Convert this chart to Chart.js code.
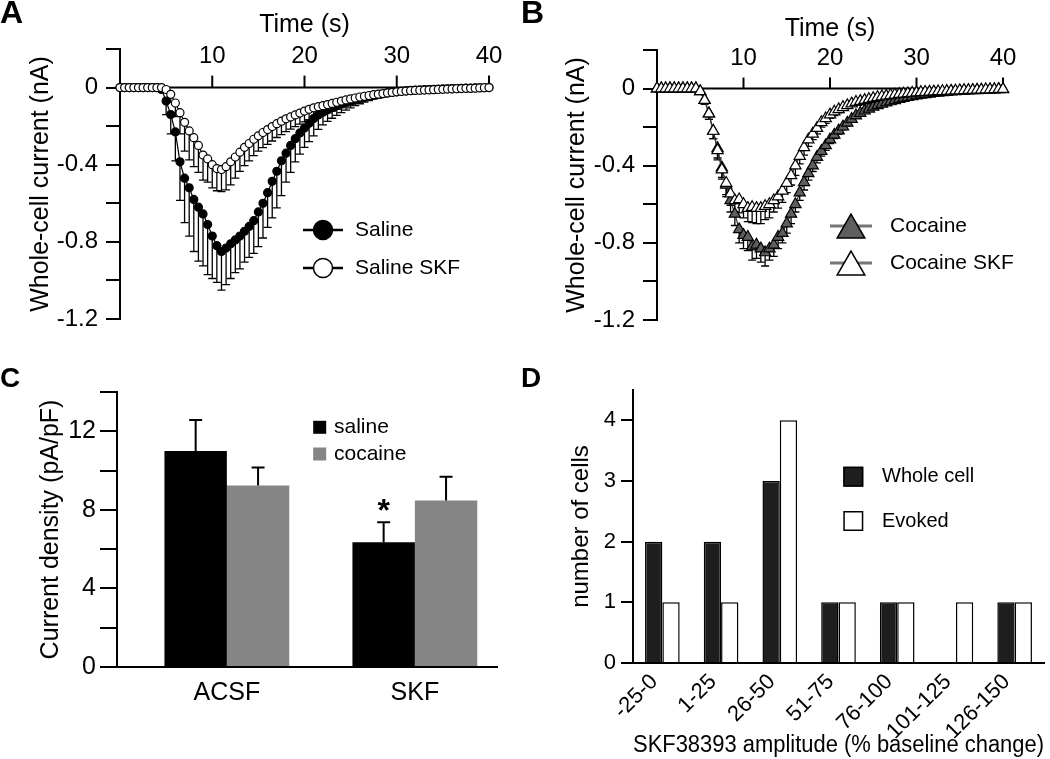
<!DOCTYPE html>
<html>
<head>
<meta charset="utf-8">
<title>Whole-cell currents</title>
<script src="https://cdn.jsdelivr.net/npm/chart.js@4.4.1/dist/chart.umd.min.js"></script>
<style>
  html, body { margin: 0; padding: 0; background: #fff; }
  #figure { position: relative; width: 1050px; height: 759px; overflow: hidden; }
  #figure canvas { position: absolute; }
  .panel-tag { position: absolute; font-family: 'Liberation Sans', Arial, sans-serif; font-weight: bold; line-height: 1; color: #000; }
</style>
</head>
<body>
<div id="figure">
  <canvas id="chartA" width="520" height="330" style="left:0px;top:0px"></canvas>
  <canvas id="chartB" width="530" height="330" style="left:520px;top:0px"></canvas>
  <canvas id="chartC" width="520" height="429" style="left:0px;top:330px"></canvas>
  <canvas id="chartD" width="530" height="429" style="left:520px;top:330px"></canvas>
  <div class="panel-tag" style="left:0px;top:-4px;font-size:32px">A</div>
  <div class="panel-tag" style="left:521px;top:-4px;font-size:32px">B</div>
  <div class="panel-tag" style="left:0px;top:364px;font-size:28px">C</div>
  <div class="panel-tag" style="left:521px;top:364px;font-size:28px">D</div>
</div>
<script>
// --- data ---

// sampling times (s), one point every 0.5 s
const timeSec = [
  0, 0.5, 1, 1.5, 2, 2.5, 3, 3.5, 4, 4.5,
  5, 5.5, 6, 6.5, 7, 7.5, 8, 8.5, 9, 9.5,
  10, 10.5, 11, 11.5, 12, 12.5, 13, 13.5, 14, 14.5,
  15, 15.5, 16, 16.5, 17, 17.5, 18, 18.5, 19, 19.5,
  20, 20.5, 21, 21.5, 22, 22.5, 23, 23.5, 24, 24.5,
  25, 25.5, 26, 26.5, 27, 27.5, 28, 28.5, 29, 29.5,
  30, 30.5, 31, 31.5, 32, 32.5, 33, 33.5, 34, 34.5,
  35, 35.5, 36, 36.5, 37, 37.5, 38, 38.5, 39, 39.5,
  40
];
const timeTicks = [10, 20, 30, 40];
const currentTickLabels = [0, -0.4, -0.8, -1.2];

// panel A (nA)
const salineMean = [
  0, 0, 0, 0, 0, 0, 0, 0, 0, -0.01,
  -0.07, -0.14, -0.23, -0.385, -0.47, -0.52, -0.58, -0.62, -0.655, -0.71,
  -0.77, -0.82, -0.85, -0.832, -0.81, -0.79, -0.77, -0.745, -0.72, -0.69,
  -0.645, -0.60, -0.545, -0.486, -0.434, -0.38, -0.34, -0.30, -0.265, -0.235,
  -0.21, -0.185, -0.16, -0.142, -0.128, -0.115, -0.104, -0.094, -0.085, -0.077,
  -0.069, -0.062, -0.056, -0.05, -0.045, -0.04, -0.036, -0.032, -0.028, -0.025,
  -0.022, -0.019, -0.017, -0.015, -0.013, -0.012, -0.011, -0.01, -0.009, -0.008,
  -0.007, -0.006, -0.005, -0.005, -0.004, -0.003, -0.003, -0.002, -0.001, -0.001,
  0
];
const salineSem = [
  0, 0, 0, 0, 0, 0, 0, 0, 0, 0.01,
  0.07, 0.10, 0.15, 0.20, 0.23, 0.25, 0.27, 0.28, 0.27, 0.26,
  0.22, 0.19, 0.20, 0.19, 0.18, 0.17, 0.17, 0.16, 0.16, 0.17,
  0.18, 0.18, 0.18, 0.19, 0.19, 0.18, 0.15, 0.14, 0.12, 0.11,
  0.10, 0.095, 0.09, 0.075, 0.065, 0.06, 0.055, 0.05, 0.045, 0.04,
  0.036, 0.032, 0.028, 0.025, 0.022, 0.02, 0.018, 0.016, 0.014, 0.012,
  0.011, 0.01, 0.009, 0.008, 0.007, 0.006, 0.006, 0.005, 0.005, 0.004,
  0.004, 0.003, 0.003, 0.003, 0.002, 0.002, 0.002, 0.001, 0.001, 0.001,
  0
];
const salineSkfMean = [
  0, 0, 0, 0, 0, 0, 0, 0, 0, 0,
  -0.01, -0.035, -0.08, -0.13, -0.18, -0.225, -0.26, -0.30, -0.35, -0.37,
  -0.40, -0.42, -0.425, -0.41, -0.385, -0.36, -0.335, -0.31, -0.29, -0.268,
  -0.25, -0.233, -0.218, -0.202, -0.187, -0.174, -0.162, -0.152, -0.142, -0.132,
  -0.122, -0.113, -0.105, -0.099, -0.094, -0.088, -0.082, -0.076, -0.07, -0.064,
  -0.059, -0.054, -0.049, -0.045, -0.041, -0.037, -0.034, -0.031, -0.028, -0.025,
  -0.022, -0.02, -0.018, -0.016, -0.015, -0.014, -0.013, -0.012, -0.011, -0.01,
  -0.009, -0.008, -0.007, -0.006, -0.005, -0.004, -0.004, -0.003, -0.002, -0.001,
  0
];
const salineSkfSem = [
  0, 0, 0, 0, 0, 0, 0, 0, 0, 0,
  0.01, 0.04, 0.07, 0.11, 0.15, 0.15, 0.15, 0.14, 0.13, 0.12,
  0.12, 0.115, 0.115, 0.12, 0.12, 0.11, 0.10, 0.095, 0.09, 0.085,
  0.08, 0.078, 0.077, 0.075, 0.072, 0.07, 0.066, 0.063, 0.06, 0.058,
  0.056, 0.053, 0.05, 0.047, 0.045, 0.043, 0.04, 0.037, 0.034, 0.031,
  0.028, 0.026, 0.024, 0.022, 0.02, 0.018, 0.016, 0.015, 0.014, 0.013,
  0.012, 0.011, 0.01, 0.009, 0.008, 0.008, 0.007, 0.007, 0.006, 0.006,
  0.005, 0.005, 0.004, 0.004, 0.003, 0.003, 0.002, 0.002, 0.001, 0.001,
  0
];

// panel B (nA)
const cocaineMean = [
  0, 0, 0, 0, 0, 0, 0, 0, 0, 0,
  -0.015, -0.06, -0.13, -0.22, -0.31, -0.41, -0.50, -0.58, -0.65, -0.73,
  -0.76, -0.77, -0.82, -0.81, -0.83, -0.85, -0.83, -0.81, -0.77, -0.75,
  -0.70, -0.65, -0.60, -0.54, -0.486, -0.44, -0.40, -0.355, -0.325, -0.295,
  -0.265, -0.24, -0.218, -0.198, -0.178, -0.158, -0.14, -0.127, -0.115, -0.105,
  -0.095, -0.087, -0.08, -0.073, -0.067, -0.061, -0.055, -0.05, -0.045, -0.041,
  -0.037, -0.033, -0.03, -0.027, -0.024, -0.022, -0.02, -0.018, -0.016, -0.015,
  -0.013, -0.012, -0.011, -0.01, -0.009, -0.008, -0.007, -0.006, -0.005, -0.004,
  -0.004
];
const cocaineSem = [
  0, 0, 0, 0, 0, 0, 0, 0, 0, 0,
  0.01, 0.02, 0.03, 0.04, 0.05, 0.05, 0.06, 0.06, 0.06, 0.07,
  0.07, 0.07, 0.07, 0.07, 0.07, 0.07, 0.06, 0.06, 0.06, 0.05,
  0.05, 0.05, 0.04, 0.04, 0.04, 0.035, 0.03, 0.03, 0.025, 0.025,
  0.02, 0.02, 0.018, 0.016, 0.015, 0.014, 0.013, 0.012, 0.011, 0.01,
  0.01, 0.009, 0.009, 0.008, 0.008, 0.007, 0.007, 0.006, 0.006, 0.005,
  0.005, 0.005, 0.004, 0.004, 0.004, 0.003, 0.003, 0.003, 0.003, 0.002,
  0.002, 0.002, 0.002, 0.002, 0.001, 0.001, 0.001, 0.001, 0.001, 0.001,
  0
];
const cocaineSkfMean = [
  0, 0, 0, 0, 0, 0, 0, 0, 0, 0,
  -0.015, -0.06, -0.13, -0.22, -0.32, -0.42, -0.49, -0.545, -0.58, -0.575,
  -0.60, -0.62, -0.615, -0.62, -0.62, -0.61, -0.60, -0.58, -0.56, -0.53,
  -0.49, -0.45, -0.40, -0.35, -0.305, -0.265, -0.235, -0.205, -0.175, -0.155,
  -0.135, -0.12, -0.108, -0.097, -0.087, -0.078, -0.07, -0.065, -0.06, -0.055,
  -0.05, -0.045, -0.041, -0.038, -0.035, -0.032, -0.029, -0.027, -0.025, -0.023,
  -0.021, -0.019, -0.018, -0.017, -0.016, -0.015, -0.014, -0.013, -0.012, -0.011,
  -0.01, -0.009, -0.008, -0.008, -0.007, -0.006, -0.005, -0.005, -0.004, -0.003,
  -0.003
];
const cocaineSkfSem = [
  0, 0, 0, 0, 0, 0, 0, 0, 0, 0,
  0.01, 0.02, 0.03, 0.04, 0.05, 0.05, 0.06, 0.06, 0.06, 0.07,
  0.07, 0.07, 0.08, 0.08, 0.08, 0.07, 0.07, 0.06, 0.06, 0.06,
  0.05, 0.05, 0.05, 0.04, 0.04, 0.035, 0.03, 0.03, 0.025, 0.025,
  0.02, 0.02, 0.018, 0.016, 0.015, 0.014, 0.013, 0.012, 0.011, 0.01,
  0.01, 0.009, 0.009, 0.008, 0.008, 0.007, 0.007, 0.006, 0.006, 0.005,
  0.005, 0.005, 0.004, 0.004, 0.004, 0.003, 0.003, 0.003, 0.003, 0.002,
  0.002, 0.002, 0.002, 0.002, 0.001, 0.001, 0.001, 0.001, 0.001, 0.001,
  0
];

// panel C (pA/pF)
const treatments = ['ACSF', 'SKF'];
const salineDensity = [11.0, 6.35];
const salineDensitySem = [1.58, 1.02];
const salineSignificance = ['', '*'];
const cocaineDensity = [9.24, 8.48];
const cocaineDensitySem = [0.92, 1.21];
const densityTickLabels = [0, 4, 8, 12];

// panel D (cells)
const amplitudeBins = ['-25-0', '1-25', '26-50', '51-75', '76-100', '101-125', '126-150'];
const wholeCellCounts = [2, 2, 3, 1, 1, 0, 1];
const evokedCounts = [1, 1, 4, 1, 1, 1, 1];
const countTickLabels = [0, 1, 2, 3, 4];

// --- drawing ---
const FONT = "'Liberation Sans', Arial, sans-serif";
Chart.defaults.font.family = FONT;
Chart.defaults.color = '#000';

// x axis of A and B sits on the zero line, ticks and labels above it
const timeAxis = {
  id: 'timeAxis',
  beforeDatasetsDraw(chart, args, o) {
    const ctx = chart.ctx;
    const x = chart.scales.x, y = chart.scales.y;
    const y0 = y.getPixelForValue(0);
    ctx.save();
    ctx.strokeStyle = '#000';
    ctx.lineWidth = 2;
    ctx.beginPath();
    ctx.moveTo(x.getPixelForValue(x.min), y0);
    ctx.lineTo(x.getPixelForValue(x.max), y0);
    ctx.stroke();
    ctx.fillStyle = '#000';
    ctx.textAlign = 'center';
    ctx.textBaseline = 'middle';
    ctx.font = o.fontSize + 'px ' + FONT;
    timeTicks.forEach(t => {
      const px = x.getPixelForValue(t);
      ctx.beginPath();
      ctx.moveTo(px, y0);
      ctx.lineTo(px, y0 - o.tickLength);
      ctx.stroke();
      ctx.fillText(String(t), px, y0 - o.labelGap);
    });
    ctx.font = o.titleSize + 'px ' + FONT;
    ctx.fillText(o.title, (x.left + x.right) / 2, y0 - o.titleGap);
    ctx.restore();
  }
};

function drawErrors(chart, o) {
  const ctx = chart.ctx;
  const yScale = chart.scales.y;
  ctx.save();
  ctx.strokeStyle = '#000';
  ctx.lineWidth = o.lineWidth;
  chart.data.datasets.forEach((ds, di) => {
    if (!ds.errors) return;
    const meta = chart.getDatasetMeta(di);
    meta.data.forEach((el, i) => {
      const v = meta.controller.getParsed(i).y;
      const e = ds.errors[i];
      if (!e || !v) return;
      const yEnd = yScale.getPixelForValue(v + Math.sign(v) * e);
      ctx.beginPath();
      ctx.moveTo(el.x, el.y);
      ctx.lineTo(el.x, yEnd);
      ctx.moveTo(el.x - o.capWidth / 2, yEnd);
      ctx.lineTo(el.x + o.capWidth / 2, yEnd);
      ctx.stroke();
    });
  });
  ctx.restore();
}

const errorBars = {
  id: 'errorBars',
  beforeDatasetsDraw(chart, args, o) { if (o.layer === 'below') drawErrors(chart, o); },
  afterDatasetsDraw(chart, args, o) { if (o.layer === 'above') drawErrors(chart, o); }
};

// asterisk over a bar's error bar
const sigMarks = {
  id: 'sigMarks',
  afterDatasetsDraw(chart, args, o) {
    const ctx = chart.ctx;
    chart.data.datasets.forEach((ds, di) => {
      if (!ds.marks) return;
      const meta = chart.getDatasetMeta(di);
      meta.data.forEach((el, i) => {
        if (!ds.marks[i]) return;
        const top = meta.controller.getParsed(i).y + (ds.errors ? ds.errors[i] : 0);
        ctx.save();
        ctx.fillStyle = '#000';
        ctx.font = 'bold ' + o.fontSize + 'px ' + FONT;
        ctx.textAlign = 'center';
        ctx.textBaseline = 'alphabetic';
        ctx.fillText(ds.marks[i], el.x, chart.scales.y.getPixelForValue(top) - o.gap);
        ctx.restore();
      });
    });
  }
};

function drawMarker(ctx, style, x, y, r) {
  ctx.beginPath();
  if (style === 'triangle') {
    const h = r * 1.5, half = r * Math.sqrt(3) / 2;
    ctx.moveTo(x, y - h / 2);
    ctx.lineTo(x + half, y + h / 2);
    ctx.lineTo(x - half, y + h / 2);
    ctx.closePath();
  } else {
    ctx.arc(x, y, r, 0, Math.PI * 2);
  }
  ctx.fill();
  ctx.stroke();
}

// legend drawn inside the plot, one row per dataset
const panelLegend = {
  id: 'panelLegend',
  afterDatasetsDraw(chart, args, o) {
    const ctx = chart.ctx;
    chart.data.datasets.forEach((ds, i) => {
      const y = o.y + i * o.rowGap;
      ctx.save();
      if (o.lineHalf) {
        ctx.strokeStyle = o.lineColor;
        ctx.lineWidth = o.lineWidth;
        ctx.beginPath();
        ctx.moveTo(o.x - o.lineHalf, y);
        ctx.lineTo(o.x + o.lineHalf, y);
        ctx.stroke();
      }
      if (o.box) {
        ctx.fillStyle = ds.backgroundColor;
        ctx.fillRect(o.x - o.box / 2, y - o.box / 2, o.box, o.box);
        if (ds.borderWidth) {
          ctx.strokeStyle = ds.borderColor;
          ctx.lineWidth = ds.borderWidth;
          const b = ds.borderWidth / 2;
          ctx.strokeRect(o.x - o.box / 2 + b, y - o.box / 2 + b, o.box - 2 * b, o.box - 2 * b);
        }
      } else {
        ctx.fillStyle = ds.pointBackgroundColor;
        ctx.strokeStyle = ds.pointBorderColor;
        ctx.lineWidth = o.markerBorder;
        drawMarker(ctx, ds.pointStyle, o.x, y, o.radius);
      }
      ctx.fillStyle = '#000';
      ctx.font = o.fontSize + 'px ' + FONT;
      ctx.textAlign = 'left';
      ctx.textBaseline = 'middle';
      ctx.fillText(ds.label, o.textX, y);
      ctx.restore();
    });
  }
};

function yAxis(o) {
  return {
    min: o.min,
    max: o.max,
    border: { color: '#000', width: 2 },
    grid: { drawOnChartArea: false, color: '#000', lineWidth: 2, tickLength: o.tickLength },
    ticks: {
      stepSize: o.step, includeBounds: false, autoSkip: false, padding: o.pad,
      color: '#000', font: { size: o.fontSize },
      callback: v => o.labelled.includes(v) ? o.format(v) : ''
    },
    title: { display: true, text: o.title, color: '#000', font: { size: o.titleSize }, padding: { top: o.titlePad, bottom: 0 } },
    afterFit: s => { s.width = o.width; s.paddingTop = 0; s.paddingBottom = 0; }
  };
}

function traceDataset(label, means, sems, style, fill, radius, lineColor, order) {
  return {
    label: label,
    data: timeSec.map((t, i) => ({ x: t, y: means[i] })),
    errors: sems,
    pointStyle: style,
    pointRadius: radius,
    pointBackgroundColor: fill,
    pointBorderColor: '#000',
    pointBorderWidth: 1.2,
    borderColor: lineColor,
    borderWidth: 1.2,
    tension: 0,
    fill: false,
    clip: false,
    order: order
  };
}

const common = {
  responsive: false,
  animation: false,
  events: [],
  devicePixelRatio: 1
};

const currentFormat = v => (v === 0 ? '0' : v.toFixed(1));

// A
new Chart(document.getElementById('chartA'), {
  type: 'line',
  data: {
    datasets: [
      traceDataset('Saline', salineMean, salineSem, 'circle', '#000', 4, '#000', 1),
      traceDataset('Saline SKF', salineSkfMean, salineSkfSem, 'circle', '#fff', 4, '#000', 0)
    ]
  },
  options: Object.assign({}, common, {
    layout: { padding: { left: 0, top: 49, right: 31, bottom: 11 } },
    scales: {
      x: { type: 'linear', min: 0, max: 40, display: false },
      y: yAxis({ min: -1.2, max: 0.2, step: 0.2, labelled: currentTickLabels, format: currentFormat,
        tickLength: 14, pad: 8, fontSize: 24, title: 'Whole-cell current (nA)', titleSize: 25, titlePad: 26, width: 120 })
    },
    plugins: {
      legend: { display: false },
      tooltip: { enabled: false },
      timeAxis: { title: 'Time (s)', fontSize: 24, titleSize: 25, tickLength: 12, labelGap: 31, titleGap: 62 },
      errorBars: { layer: 'below', lineWidth: 1.3, capWidth: 8 },
      panelLegend: { x: 323, y: 230, rowGap: 38, textX: 355, lineHalf: 20, lineColor: '#000', lineWidth: 2.5,
        radius: 9.5, markerBorder: 1.5, fontSize: 21 }
    }
  }),
  plugins: [timeAxis, errorBars, panelLegend]
});

// B
new Chart(document.getElementById('chartB'), {
  type: 'line',
  data: {
    datasets: [
      traceDataset('Cocaine', cocaineMean, cocaineSem, 'triangle', '#5e5e5e', 6.5, '#333', 1),
      traceDataset('Cocaine SKF', cocaineSkfMean, cocaineSkfSem, 'triangle', '#fff', 6.5, '#333', 0)
    ]
  },
  options: Object.assign({}, common, {
    layout: { padding: { left: 0, top: 50, right: 47, bottom: 10 } },
    scales: {
      x: { type: 'linear', min: 0, max: 40, display: false },
      y: yAxis({ min: -1.2, max: 0.2, step: 0.2, labelled: currentTickLabels, format: currentFormat,
        tickLength: 14, pad: 8, fontSize: 24, title: 'Whole-cell current (nA)', titleSize: 25, titlePad: 42, width: 137 })
    },
    plugins: {
      legend: { display: false },
      tooltip: { enabled: false },
      timeAxis: { title: 'Time (s)', fontSize: 24, titleSize: 25, tickLength: 11, labelGap: 30, titleGap: 59 },
      errorBars: { layer: 'below', lineWidth: 1.3, capWidth: 8 },
      panelLegend: { x: 331, y: 226, rowGap: 37, textX: 370, lineHalf: 21, lineColor: '#777', lineWidth: 3,
        radius: 16, markerBorder: 1.5, fontSize: 21 }
    }
  }),
  plugins: [timeAxis, errorBars, panelLegend]
});

// C
new Chart(document.getElementById('chartC'), {
  type: 'bar',
  data: {
    datasets: [
      { label: 'saline', data: treatments.map((t, i) => ({ x: i + 1, y: salineDensity[i] })),
        errors: salineDensitySem, marks: salineSignificance, backgroundColor: '#000', borderWidth: 0 },
      { label: 'cocaine', data: treatments.map((t, i) => ({ x: i + 1, y: cocaineDensity[i] })),
        errors: cocaineDensitySem, backgroundColor: '#858585', borderWidth: 0 }
    ]
  },
  options: Object.assign({}, common, {
    layout: { padding: { left: 0, top: 62, right: 23, bottom: 0 } },
    datasets: { bar: { categoryPercentage: 0.664, barPercentage: 1 } },
    scales: {
      x: {
        type: 'linear', min: 0.4156, max: 2.437, offset: false,
        border: { color: '#000', width: 2 },
        grid: { display: false, drawTicks: false, offset: false },
        afterBuildTicks: s => { s.ticks = treatments.map((t, i) => ({ value: i + 1 })); },
        ticks: { padding: 11, maxRotation: 0, autoSkip: false, font: { size: 25 }, color: '#000',
          callback: v => treatments[v - 1] },
        afterFit: s => { s.height = 92; s.paddingLeft = 0; s.paddingRight = 0; }
      },
      y: yAxis({ min: 0, max: 14, step: 2, labelled: densityTickLabels, format: v => String(v),
        tickLength: 17, pad: 4, fontSize: 25, title: 'Current density (pA/pF)', titleSize: 25, titlePad: 36, width: 117 })
    },
    plugins: {
      legend: { display: false },
      tooltip: { enabled: false },
      errorBars: { layer: 'above', lineWidth: 2, capWidth: 13 },
      sigMarks: { fontSize: 32, gap: 1 },
      panelLegend: { x: 319.7, y: 97.3, rowGap: 26.7, textX: 334, box: 13, fontSize: 21 }
    }
  }),
  plugins: [errorBars, sigMarks, panelLegend]
});

// D
new Chart(document.getElementById('chartD'), {
  type: 'bar',
  data: {
    labels: amplitudeBins,
    datasets: [
      { label: 'Whole cell', data: wholeCellCounts, backgroundColor: '#1e1e1e', borderColor: '#000', borderWidth: 1.5 },
      { label: 'Evoked', data: evokedCounts, backgroundColor: '#fff', borderColor: '#000', borderWidth: 1.5 }
    ]
  },
  options: Object.assign({}, common, {
    layout: { padding: { left: 0, top: 60, right: 6, bottom: 0 } },
    datasets: { bar: { categoryPercentage: 0.59, barPercentage: 1 } },
    scales: {
      x: {
        border: { color: '#000', width: 2 },
        grid: { display: false, drawTicks: false },
        ticks: { minRotation: 45, maxRotation: 45, autoSkip: false, padding: 6, labelOffset: -8,
          font: { size: 22 }, color: '#000' },
        title: { display: true, text: 'SKF38393 amplitude (% baseline change)', align: 'end', color: '#000',
          font: { size: 23 }, padding: { top: 0, bottom: 0 } },
        afterFit: s => { s.height = 96; s.paddingLeft = 0; s.paddingRight = 0; }
      },
      y: yAxis({ min: 0, max: 4.5, step: 1, labelled: countTickLabels, format: v => String(v),
        tickLength: 12, pad: 5, fontSize: 22, title: 'number of cells', titleSize: 24, titlePad: 47, width: 113 })
    },
    plugins: {
      legend: { display: false },
      tooltip: { enabled: false },
      panelLegend: { x: 333.3, y: 146.7, rowGap: 44.3, textX: 362, box: 20, fontSize: 20 }
    }
  }),
  plugins: [panelLegend]
});
</script>
</body>
</html>
